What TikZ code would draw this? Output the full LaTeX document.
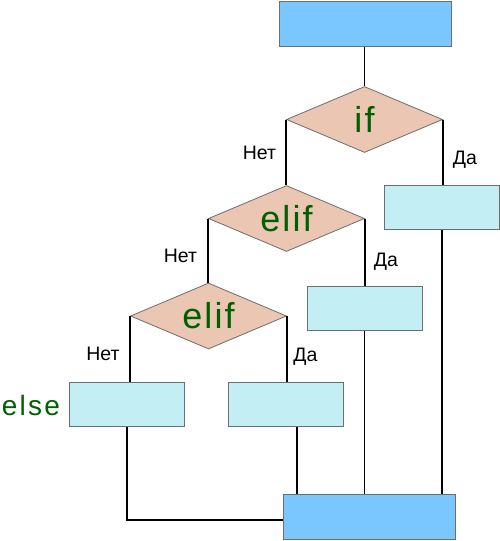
\documentclass[tikz,border=0pt]{standalone}
\usepackage{fontspec}
\setmainfont{Liberation Sans}
\usetikzlibrary{shapes.geometric}
\definecolor{bluebox}{HTML}{7AC6FF}
\definecolor{cyanbox}{HTML}{C3EEF3}
\definecolor{condfill}{HTML}{EBC6B2}
\definecolor{edgegray}{HTML}{6E6E6E}
\definecolor{codegreen}{RGB}{0,96,0}
\newcommand{\condfont}{\fontsize{36}{40}\selectfont\addfontfeature{LetterSpace=6}}
\newcommand{\elsefont}{\fontsize{28}{32}\selectfont\addfontfeature{LetterSpace=8}}
\newcommand{\labfont}{\fontsize{19.5}{22}\selectfont}
\begin{document}
\begin{tikzpicture}[x=1pt,y=-1pt,
  bigbox/.style={rectangle, draw=edgegray, line width=1pt, fill=bluebox, minimum width=172pt, minimum height=45pt, inner sep=0pt},
  smallbox/.style={rectangle, draw=edgegray, line width=1pt, fill=cyanbox, minimum width=115pt, minimum height=44pt, inner sep=0pt},
  cond/.style={diamond, draw=edgegray, line width=0.8pt, fill=condfill, minimum width=156pt, minimum height=66pt, inner sep=0pt, aspect=2.4, font=\condfont, text=codegreen},
  wire/.style={line width=1.8pt, black},
  lab/.style={font=\labfont, inner sep=0pt, anchor=base},
  elsetext/.style={font=\elsefont, text=codegreen, inner sep=0pt}]
\useasboundingbox (0,0) rectangle (500,541);
\node[bigbox] (start) at (365.5,23.5) {};
\node[cond] (if) at (364.5,119.5) {if};
\node[smallbox] (yes1) at (442,207.5) {};
\node[cond] (elif1) at (286.5,218.5) {elif};
\node[smallbox] (yes2) at (364.5,308) {};
\node[cond] (elif2) at (208.5,316) {elif};
\node[smallbox] (yes3) at (285.5,404) {};
\node[smallbox] (else) at (127,404.5) {};
\node[bigbox] (end) at (369,517) {};
\node[elsetext] (elselab) at (31,405.5) {else};

\path ([xshift=11.5pt]yes3.south) coordinate (y3out);
\path ([yshift=-3pt]end.west) coordinate (endin);

\draw[wire] (if.north |- start.south) -- (if.north);
\draw[wire] (if.west) -- (if.west |- elif1.north);
\draw[wire] (if.east) -- (if.east |- yes1.north);
\draw[wire] (elif1.west) -- (elif1.west |- elif2.north);
\draw[wire] (elif1.east) -- (elif1.east |- yes2.north);
\draw[wire] (elif2.west) -- (elif2.west |- else.north);
\draw[wire] (elif2.east) -- (elif2.east |- yes3.north);
\draw[wire] (yes1.south) -- (yes1.south |- end.north);
\draw[wire] (yes2.south) -- (yes2.south |- end.north);
\draw[wire] (y3out) -- (y3out |- end.north);
\draw[wire] (else.south) |- (endin);

\node[lab] (no1) at (259.5,159) {Нет};
\node[lab] (no2) at (180.5,262) {Нет};
\node[lab] (no3) at (103,360) {Нет};
\node[lab] (da1) at (465,164) {Да};
\node[lab] (da2) at (386,266) {Да};
\node[lab] (da3) at (305.5,361.5) {Да};
\end{tikzpicture}
\end{document}
